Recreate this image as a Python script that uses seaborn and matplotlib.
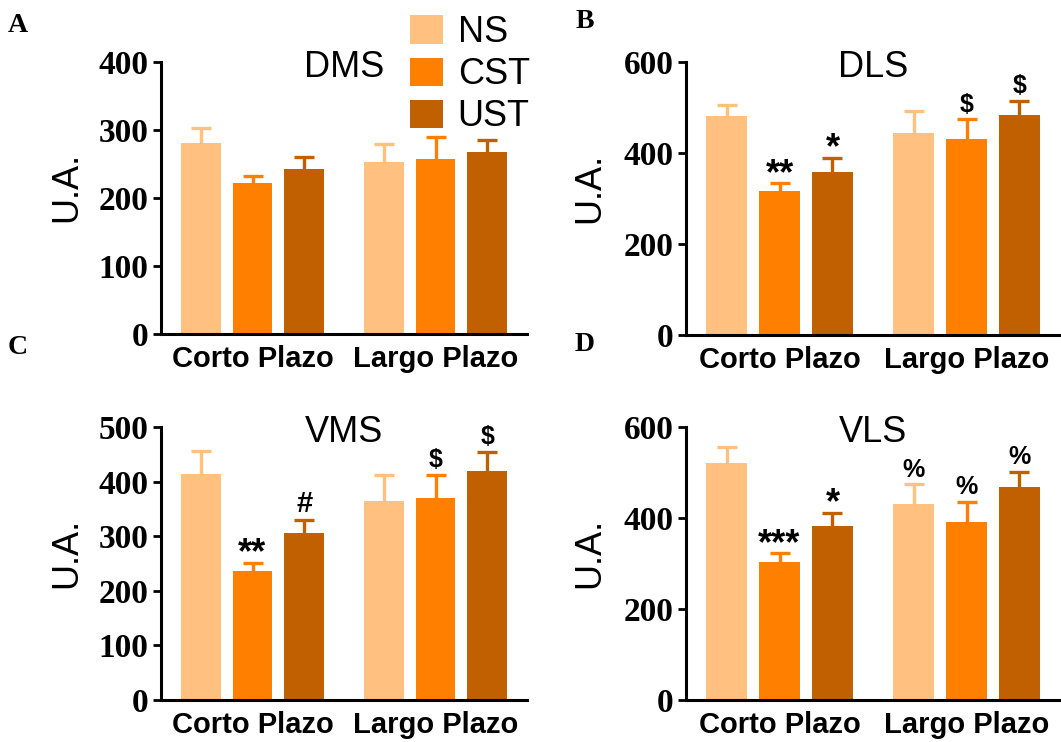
import numpy as np
import pandas as pd
import matplotlib
matplotlib.use("Agg")
import matplotlib.pyplot as plt
import seaborn as sns
from matplotlib.patches import Patch

# ---- datos (medias y SEM) ----
grupos = ["Corto Plazo", "Largo Plazo"]
condiciones = ["NS", "CST", "UST"]
colores = ["#FFC080", "#FF8000", "#C06000"]

# orden: Corto NS, CST, UST, Largo NS, CST, UST
dms_media = [281, 222, 242, 253, 257, 268]
dms_sem = [22, 10, 19, 27, 32, 18]
dms_marcas = ["", "", "", "", "", ""]

dls_media = [481, 316, 358, 444, 430, 484]
dls_sem = [25, 17, 31, 48, 44, 30]
dls_marcas = ["", "**", "*", "", "$", "$"]

vms_media = [414, 236, 305, 364, 370, 420]
vms_sem = [42, 15, 24, 49, 43, 35]
vms_marcas = ["", "**", "#", "", "$", "$"]

vls_media = [521, 304, 383, 430, 392, 468]
vls_sem = [35, 18, 28, 44, 43, 33]
vls_marcas = ["", "***", "*", "%", "%", "%"]

paneles = [
    ("A", "DMS", dms_media, dms_sem, dms_marcas, 400, 100),
    ("B", "DLS", dls_media, dls_sem, dls_marcas, 600, 200),
    ("C", "VMS", vms_media, vms_sem, vms_marcas, 500, 100),
    ("D", "VLS", vls_media, vls_sem, vls_marcas, 600, 200),
]

sns.set_style("ticks")
plt.rcParams['font.family'] = ['Liberation Sans', 'DejaVu Sans']
for k in ["text.color", "axes.labelcolor", "xtick.color", "ytick.color"]:
    plt.rcParams[k] = "black"
SERIF = ['Liberation Serif', 'DejaVu Serif']

W, H = 1061, 742
fig = plt.figure(figsize=(W / 100, H / 100), dpi=100)

# posiciones de los ejes en pixeles: (izq, der, arriba, abajo)
cajas = [(161, 527, 62, 334), (686, 1060, 62, 335),
         (161, 527, 427, 700), (686, 1060, 427, 700)]
letras_pos = [(18, 25), (585, 22), (18, 347), (585, 345)]

for (letra, titulo, media, sem, marcas, ymax, paso), caja, lp in zip(paneles, cajas, letras_pos):
    l, r, t, b = caja
    ax = fig.add_axes([l / W, 1 - b / H, (r - l) / W, (b - t) / H])

    df = pd.DataFrame({
        "grupo": np.repeat(grupos, len(condiciones)),
        "condicion": condiciones * len(grupos),
        "valor": media,
        "sem": sem,
        "marca": marcas,
    })

    sns.barplot(data=df, x="grupo", y="valor", hue="condicion",
                hue_order=condiciones, order=grupos, palette=colores,
                saturation=1, width=0.85, gap=0.23, errorbar=None,
                linewidth=0, legend=False, ax=ax)

    # barras de error solo hacia arriba + marcas de significancia
    for cont, cond, col in zip(ax.containers, condiciones, colores):
        sub = df[df["condicion"] == cond].set_index("grupo").loc[grupos]
        xs = [p.get_x() + p.get_width() / 2 for p in cont.patches]
        eb = ax.errorbar(xs, sub["valor"], yerr=[np.zeros(len(xs)), sub["sem"]],
                         fmt="none", ecolor=col, elinewidth=2.4, capsize=7.5,
                         capthick=2.4, zorder=1)
        eb[1][0].set_visible(False)  # sin tapa inferior
        for x, v, e, m in zip(xs, sub["valor"], sub["sem"], sub["marca"]):
            if not m:
                continue
            if "*" in m:
                ax.annotate(m, (x, v + e), xytext=(0, -6), textcoords="offset points",
                            ha="center", va="bottom", fontsize=26, fontweight="bold")
            else:
                fs = 21 if m == "#" else 18
                ax.annotate(m, (x, v + e), xytext=(0, 2), textcoords="offset points",
                            ha="center", va="bottom", fontsize=fs, fontweight="bold")

    ax.set_ylim(0, ymax)
    ax.set_xlim(-0.5, 1.5)
    ax.set_yticks(np.arange(0, ymax + 1, paso))
    ax.set_xlabel("")
    ax.set_ylabel("U.A.", fontsize=26)
    ax.yaxis.set_label_coords(-0.21, 0.54)
    for lab in ax.get_yticklabels():
        lab.set_fontfamily(SERIF)
        lab.set_fontweight("bold")
        lab.set_fontsize(24)
    for lab in ax.get_xticklabels():
        lab.set_fontweight("bold")
        lab.set_fontsize(21)
    ax.tick_params(axis="y", length=6, width=2, pad=3, direction="out")
    ax.tick_params(axis="x", length=0, pad=8)
    sns.despine(ax=ax)
    for s in ["left", "bottom"]:
        ax.spines[s].set_linewidth(2.2)
        ax.spines[s].set_color("black")

    ax.text(0.5, 0.98, titulo, transform=ax.transAxes, ha="center",
            va="center", fontsize=26)

    fig.text(lp[0] / W, 1 - lp[1] / H, letra, ha="center", va="center",
             fontsize=20, fontweight="bold", family=SERIF)

handles = [Patch(facecolor=c, edgecolor="none", label=n) for c, n in zip(colores, condiciones)]
fig.legend(handles=handles, loc="upper left", bbox_to_anchor=(410 / W, 1 - 15 / H),
           frameon=False, fontsize=26, handlelength=0.9, handleheight=0.83,
           labelspacing=0.2, handletextpad=0.42, borderpad=0, borderaxespad=0)

fig.savefig("out.png", dpi=100)
